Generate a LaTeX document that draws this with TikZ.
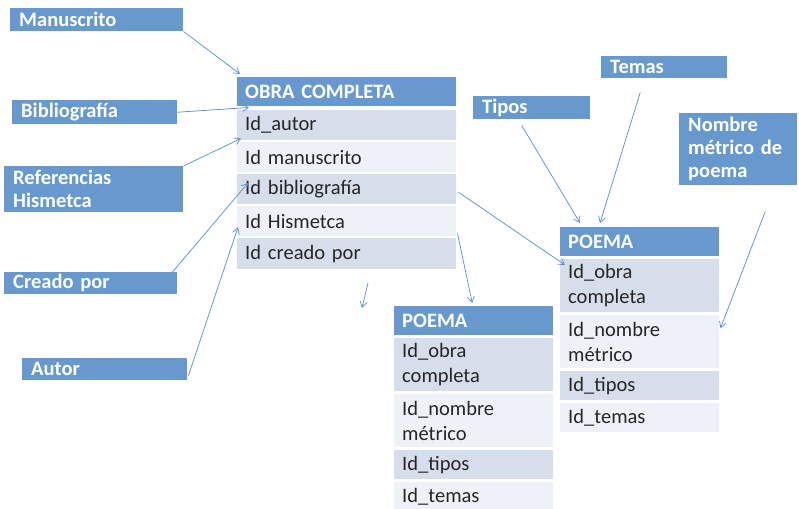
\documentclass[tikz,border=0pt]{standalone}
\usepackage{fontspec}
\setmainfont{Carlito}
\usetikzlibrary{arrows.meta}
\definecolor{azulcaja}{RGB}{104,153,206}
\definecolor{filaoscura}{RGB}{214,222,235}
\definecolor{filaclara}{RGB}{238,242,248}
\definecolor{azulflecha}{RGB}{86,140,210}
\definecolor{textofila}{RGB}{38,38,38}
\begin{document}
\begin{tikzpicture}[x=0.03cm, y=-0.03cm]
  \useasboundingbox (0,0) rectangle (799,509);

  % Estilos.
  \tikzstyle{etiqueta}=[fill=azulcaja, text=white, anchor=north west, inner xsep=0.27cm, inner ysep=0pt, align=left, font=\fontsize{17.5}{19.5}\selectfont\bfseries]
  \tikzstyle{cabecera}=[fill=azulcaja, text=white, anchor=north west, inner xsep=0.24cm, inner ysep=0pt, align=left, minimum height=0.87cm, font=\fontsize{17.5}{21}\selectfont\bfseries]
  \tikzstyle{fila}=[anchor=north west, text=textofila, inner xsep=0.24cm, inner ysep=0pt, align=left, font=\fontsize{17.5}{21}\selectfont]
  \tikzstyle{oscura}=[fila, fill=filaoscura]
  \tikzstyle{clara}=[fila, fill=filaclara]
  \tikzstyle{flecha}=[draw=azulflecha, line width=0.6pt, -{Straight Barb[length=5pt,width=6pt]}]

  % Etiquetas de la izquierda.
  \node[etiqueta, text width=4.65cm, minimum height=0.69cm] (manuscrito) at (10,8) {Manuscrito};
  \node[etiqueta, text width=4.41cm, minimum height=0.72cm] (bibliografia) at (12,100) {Bibliografía};
  \node[etiqueta, text width=4.83cm, minimum height=1.38cm] (referencias) at (4,166) {Referencias\\Hismetca};
  \node[etiqueta, text width=4.65cm, minimum height=0.66cm] (creado) at (4,272) {Creado por};
  \node[etiqueta, text width=4.41cm, minimum height=0.66cm] (autor) at (22,358) {Autor};

  % Etiquetas de la derecha.
  \node[etiqueta, text width=2.97cm, minimum height=0.69cm] (tipos) at (473,96) {Tipos};
  \node[etiqueta, text width=3.24cm, minimum height=0.66cm] (temas) at (601,56) {Temas};
  \node[etiqueta, text width=3.00cm, minimum height=2.16cm] (nombre) at (679,113) {Nombre\\métrico de\\poema};

  % Tabla obra completa.
  \node[cabecera, text width=6.09cm] (obra) at (237,77) {OBRA COMPLETA};
  \node[oscura, text width=6.09cm, minimum height=0.9cm] (obraAutor) at (237,110) {Id\_autor};
  \node[clara, text width=6.09cm, minimum height=0.9cm] (obraManus) at (237,142) {Id manuscrito};
  \node[oscura, text width=6.09cm, minimum height=0.9cm] (obraBiblio) at (237,174) {Id bibliografía};
  \node[clara, text width=6.09cm, minimum height=0.9cm] (obraHis) at (237,206) {Id Hismetca};
  \node[oscura, text width=6.09cm, minimum height=0.93cm] (obraCreado) at (237,238) {Id creado por};

  % Tabla poema (abajo).
  \node[cabecera, text width=4.29cm] (poemaA) at (394,306) {POEMA};
  \node[oscura, text width=4.29cm, minimum height=1.59cm] (poemaAObra) at (394,338) {Id\_obra\\completa};
  \node[clara, text width=4.29cm, minimum height=1.59cm] (poemaANombre) at (394,394) {Id\_nombre\\métrico};
  \node[oscura, text width=4.29cm, minimum height=0.87cm] (poemaATipos) at (394,450) {Id\_tipos};
  \node[clara, text width=4.29cm, minimum height=0.9cm] (poemaATemas) at (394,482) {Id\_temas};

  % Tabla poema (derecha).
  \node[cabecera, text width=4.29cm] (poemaB) at (560,227) {POEMA};
  \node[oscura, text width=4.29cm, minimum height=1.59cm] (poemaBObra) at (560,259) {Id\_obra\\completa};
  \node[clara, text width=4.29cm, minimum height=1.59cm] (poemaBNombre) at (560,315) {Id\_nombre\\métrico};
  \node[oscura, text width=4.29cm, minimum height=0.87cm] (poemaBTipos) at (560,371) {Id\_tipos};
  \node[clara, text width=4.29cm, minimum height=0.87cm] (poemaBTemas) at (560,403) {Id\_temas};

  % Flechas.
  \coordinate (sueltaIni) at (368,283);
  \coordinate (sueltaFin) at (362,308);

  \draw[flecha] (manuscrito.south east) -- ([shift={(3,-3)}]obra.north west);
  \draw[flecha] (bibliografia.east) -- ([shift={(12,1)}]obra.south west);
  \draw[flecha] (referencias.north east) -- ([shift={(4,-2)}]obraAutor.south west);
  \draw[flecha] ([shift={(-5,0)}]creado.north east) -- ([shift={(11,9)}]obraBiblio.north west);
  \draw[flecha] ([shift={(1,-5)}]autor.south east) -- ([shift={(1,6)}]obraHis.west);
  \draw[flecha] (sueltaIni) -- (sueltaFin);
  \draw[flecha] ([shift={(1,-3)}]obraHis.south east) -- ([shift={(-1.5,-3)}]poemaA.north);
  \draw[flecha] ([shift={(2,3)}]obraBiblio.east) -- ([shift={(5,6)}]poemaBObra.north west);
  \draw[flecha] ([shift={(-10,6)}]tipos.south) -- ([shift={(20,-4)}]poemaB.north west);
  \draw[flecha] ([shift={(-24,14)}]temas.south) -- ([shift={(40,-4)}]poemaB.north west);
  \draw[flecha] ([shift={(27,26)}]nombre.south) -- ([shift={(1,-13.5)}]poemaBNombre.east);
\end{tikzpicture}
\end{document}
